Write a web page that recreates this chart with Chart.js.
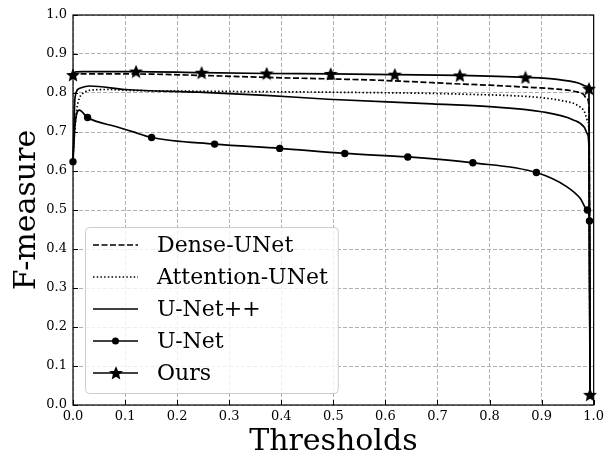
<!DOCTYPE html>
<html>
<head>
<meta charset="utf-8">
<script src="https://cdn.jsdelivr.net/npm/chart.js@4.4.1/dist/chart.umd.min.js"></script>
<style>
    html, body { margin: 0; padding: 0; background: #ffffff; }
    #wrap { width: 608px; height: 457px; }
</style>
</head>
<body>
<div id="wrap"><canvas id="fmeasure_chart" width="608" height="457"></canvas></div>
<script>
// F-measure vs threshold
const denseX = [0, 0.005, 0.05, 0.1, 0.25, 0.37, 0.5, 0.6, 0.745, 0.8, 0.87, 0.93, 0.968, 0.98, 0.987, 0.991, 0.993];
const denseY = [0.843, 0.849, 0.849, 0.849, 0.845, 0.840, 0.836, 0.832, 0.823, 0.820, 0.815, 0.810, 0.803, 0.797, 0.786, 0.765, 0.025];

const attentionX = [0, 0.004, 0.007, 0.012, 0.02, 0.04, 0.07, 0.1, 0.3, 0.5, 0.75, 0.9, 0.94, 0.968, 0.983, 0.988, 0.991, 0.993];
const attentionY = [0.640, 0.714, 0.756, 0.786, 0.800, 0.808, 0.809, 0.807, 0.804, 0.802, 0.797, 0.788, 0.780, 0.769, 0.750, 0.730, 0.700, 0.025];

const unetPPX = [0, 0.004, 0.013, 0.032, 0.1, 0.24, 0.37, 0.49, 0.69, 0.8, 0.9, 0.961, 0.982, 0.988, 0.991, 0.993];
const unetPPY = [0.630, 0.790, 0.812, 0.818, 0.809, 0.802, 0.794, 0.784, 0.772, 0.765, 0.752, 0.731, 0.712, 0.695, 0.660, 0.025];

const unetX = [0, 0.004, 0.012, 0.028, 0.082, 0.114, 0.151, 0.272, 0.397, 0.522, 0.643, 0.768, 0.89, 0.948, 0.974, 0.988, 0.992, 0.993];
const unetY = [0.624, 0.720, 0.756, 0.737, 0.714, 0.701, 0.686, 0.669, 0.658, 0.645, 0.636, 0.621, 0.596, 0.560, 0.530, 0.500, 0.472, 0.025];
const unetMarks = [0, 0.028, 0.151, 0.272, 0.397, 0.522, 0.643, 0.768, 0.89, 0.988, 0.992];

const oursX = [0, 0.005, 0.02, 0.121, 0.247, 0.372, 0.495, 0.618, 0.743, 0.869, 0.93, 0.972, 0.985, 0.991, 0.993];
const oursY = [0.846, 0.854, 0.855, 0.855, 0.852, 0.850, 0.849, 0.847, 0.845, 0.840, 0.835, 0.825, 0.818, 0.811, 0.026];
const oursMarks = [0, 0.121, 0.247, 0.372, 0.495, 0.618, 0.743, 0.869, 0.991, 0.993];

const axisTicks = [0, 0.1, 0.2, 0.3, 0.4, 0.5, 0.6, 0.7, 0.8, 0.9, 1.0];

/**
 * Build {x, y} points from two arrays
 */
function toPoints(xs, ys) {
    return xs.map((x, i) => ({ x: x, y: ys[i] }));
}

/**
 * Filled five-point star used as marker for "Ours"
 */
function makeStar(size) {
    const c = document.createElement('canvas');
    c.width = size;
    c.height = size;
    const g = c.getContext('2d');
    const half = size / 2;
    const R = half - 1.6;
    const r = R * 0.45;
    const cy = half + R * 0.1;
    g.beginPath();
    for (let k = 0; k < 10; k++) {
        const a = -Math.PI / 2 + k * Math.PI / 5;
        const rad = k % 2 ? r : R;
        g.lineTo(half + rad * Math.cos(a), cy + rad * Math.sin(a));
    }
    g.closePath();
    g.fillStyle = '#000';
    g.fill();
    g.strokeStyle = '#000';
    g.lineWidth = 1.5;
    g.lineJoin = 'miter';
    g.stroke();
    return c;
}

const starImg = makeStar(14);

function markRadius(marks, radius) {
    return (ctx) => {
        const p = ctx.raw;
        if (!p) return 0;
        return marks.includes(p.x) ? radius : 0;
    };
}

// legend, inward ticks and frame drawn like the matplotlib original
const figurePlugin = {
    id: 'figureDecor',
    afterDatasetsDraw(chart) {
        const { ctx, chartArea } = chart;
        const xs = chart.scales.x;
        const ys = chart.scales.y;

        // inward ticks
        ctx.save();
        ctx.strokeStyle = '#000';
        ctx.lineWidth = 1;
        ctx.beginPath();
        axisTicks.forEach((v) => {
            const px = Math.round(xs.getPixelForValue(v)) + 0.5;
            ctx.moveTo(px, chartArea.bottom);
            ctx.lineTo(px, chartArea.bottom - 5);
            const py = Math.round(ys.getPixelForValue(v)) + 0.5;
            ctx.moveTo(chartArea.left, py);
            ctx.lineTo(chartArea.left + 5, py);
        });
        ctx.stroke();

        // frame
        ctx.lineWidth = 1.2;
        ctx.strokeRect(chartArea.left, chartArea.top, chartArea.right - chartArea.left, chartArea.bottom - chartArea.top);
        ctx.restore();

        // legend (lower left)
        const sets = chart.data.datasets;
        ctx.save();
        ctx.font = '22px "DejaVu Serif"';
        let maxW = 0;
        sets.forEach((d) => { maxW = Math.max(maxW, ctx.measureText(d.label).width); });
        const bx = chartArea.left + 12;
        const bh = 166;
        const by = chartArea.bottom - 12 - bh;
        const bw = 72 + maxW + 10;
        ctx.beginPath();
        ctx.roundRect(bx + 0.5, by + 0.5, bw, bh, 4);
        ctx.fillStyle = 'rgba(255,255,255,0.8)';
        ctx.fill();
        ctx.strokeStyle = '#cccccc';
        ctx.lineWidth = 1;
        ctx.stroke();

        sets.forEach((d, i) => {
            const y = by + 18 + i * 32;
            ctx.save();
            ctx.strokeStyle = '#000';
            ctx.lineWidth = d.borderWidth;
            ctx.setLineDash(d.borderDash || []);
            ctx.beginPath();
            ctx.moveTo(bx + 8, y);
            ctx.lineTo(bx + 53, y);
            ctx.stroke();
            ctx.restore();
            if (d.legendMarker === 'circle') {
                ctx.beginPath();
                ctx.arc(bx + 30.5, y, 3.5, 0, Math.PI * 2);
                ctx.fillStyle = '#000';
                ctx.fill();
            } else if (d.legendMarker) {
                const m = d.legendMarker;
                ctx.drawImage(m, Math.round(bx + 30.5 - m.width / 2), Math.round(y - m.height / 2));
            }
            ctx.fillStyle = '#000';
            ctx.textBaseline = 'middle';
            ctx.textAlign = 'left';
            ctx.fillText(d.label, bx + 72, y + 1);
        });
        ctx.restore();
    }
};

Chart.defaults.font.family = '"DejaVu Serif"';
Chart.defaults.color = '#000';

const lineBase = {
    borderColor: '#000',
    backgroundColor: '#000',
    borderWidth: 1.7,
    fill: false,
    cubicInterpolationMode: 'monotone',
    pointRadius: 0,
    pointHoverRadius: 0,
    clip: false,
};

new Chart(document.getElementById('fmeasure_chart'), {
    type: 'line',
    data: {
        datasets: [
            Object.assign({}, lineBase, {
                label: 'Dense-UNet',
                data: toPoints(denseX, denseY),
                borderDash: [6, 2.5],
                order: 5,
            }),
            Object.assign({}, lineBase, {
                label: 'Attention-UNet',
                data: toPoints(attentionX, attentionY),
                borderDash: [1.5, 2.2],
                order: 4,
            }),
            Object.assign({}, lineBase, {
                label: 'U-Net++',
                data: toPoints(unetPPX, unetPPY),
                order: 3,
            }),
            Object.assign({}, lineBase, {
                label: 'U-Net',
                data: toPoints(unetX, unetY),
                pointStyle: 'circle',
                pointRadius: markRadius(unetMarks, 3.7),
                pointBorderWidth: 0,
                legendMarker: 'circle',
                order: 2,
            }),
            Object.assign({}, lineBase, {
                label: 'Ours',
                data: toPoints(oursX, oursY),
                pointStyle: starImg,
                pointRadius: markRadius(oursMarks, 5),
                legendMarker: starImg,
                order: 1,
            }),
        ],
    },
    options: {
        responsive: false,
        animation: false,
        events: [],
        layout: { padding: { top: 15, right: 11, left: 0, bottom: 0 } },
        plugins: {
            legend: { display: false },
            tooltip: { enabled: false },
        },
        scales: {
            x: {
                type: 'linear',
                min: 0,
                max: 1,
                afterFit: (s) => { s.height = 52; },
                afterBuildTicks: (s) => { s.ticks = axisTicks.map((v) => ({ value: v })); },
                ticks: {
                    callback: (v) => Number(v).toFixed(1),
                    font: { size: 13 },
                    color: '#000',
                    padding: 4,
                    maxRotation: 0,
                    autoSkip: false,
                },
                grid: { color: '#b0b0b0', lineWidth: 1, drawTicks: false },
                border: { display: false, dash: [4, 2] },
                title: {
                    display: true,
                    text: 'Thresholds',
                    font: { size: 30, lineHeight: 1 },
                    color: '#000',
                    padding: 0,
                },
            },
            y: {
                type: 'linear',
                min: 0,
                max: 1,
                afterFit: (s) => { s.width = 73; },
                afterBuildTicks: (s) => { s.ticks = axisTicks.map((v) => ({ value: v })); },
                ticks: {
                    callback: (v) => Number(v).toFixed(1),
                    font: { size: 13 },
                    color: '#000',
                    padding: 6,
                    autoSkip: false,
                },
                grid: { color: '#b0b0b0', lineWidth: 1, drawTicks: false },
                border: { display: false, dash: [4, 2] },
                title: {
                    display: true,
                    text: 'F-measure',
                    font: { size: 30, lineHeight: 1 },
                    color: '#000',
                    padding: 12,
                },
            },
        },
    },
    plugins: [figurePlugin],
});
</script>
</body>
</html>
